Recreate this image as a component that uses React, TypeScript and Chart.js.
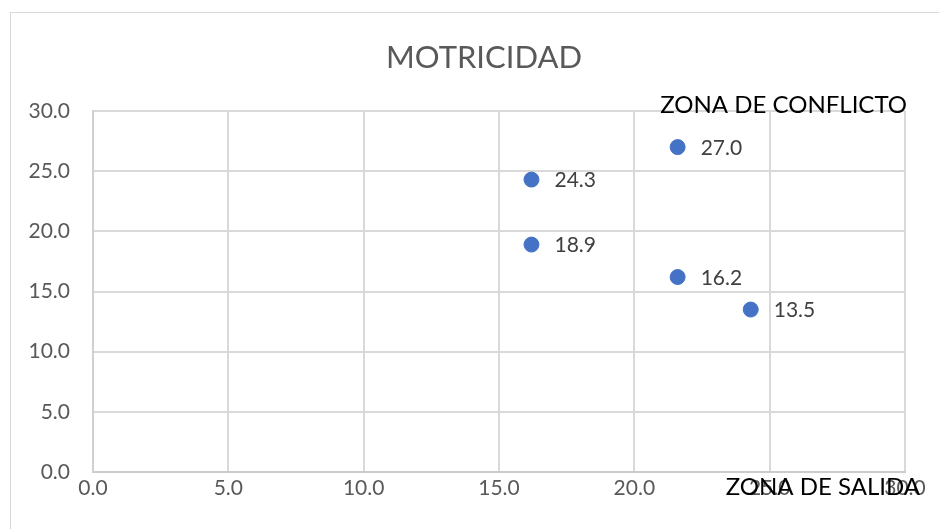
import React, { useEffect, useRef } from "react";
import { Chart, registerables } from "chart.js";

Chart.register(...registerables);

const chartTitle = "MOTRICIDAD";
const xAxisNote = "ZONA DE SALIDA";
const yAxisNote = "ZONA DE CONFLICTO";
const xValues = [16.2, 16.2, 21.6, 21.6, 24.3];
const yValues = [24.3, 18.9, 27.0, 16.2, 13.5];
const axisMin = 0;
const axisMax = 30;
const axisStep = 5;

const FONT = "Lato, 'Open Sans', sans-serif";

const overlayPlugin = {
  id: "overlay",
  beforeDraw(chart: any) {
    const ctx = chart.ctx;
    ctx.save();
    ctx.strokeStyle = "#d9d9d9";
    ctx.lineWidth = 1;
    ctx.strokeRect(10.5, 12.5, 1000, 1000);
    ctx.restore();
  },
  afterDraw(chart: any) {
    const ctx = chart.ctx;
    const area = chart.chartArea;
    ctx.save();
    // title
    ctx.fillStyle = "#595959";
    ctx.font = `31px ${FONT}`;
    ctx.textAlign = "center";
    ctx.textBaseline = "middle";
    ctx.fillText(chartTitle, 484, 58);
    // data labels
    const meta = chart.getDatasetMeta(0);
    ctx.font = `21px ${FONT}`;
    ctx.fillStyle = "#404040";
    ctx.textAlign = "left";
    meta.data.forEach((pt: any, i: number) => {
      ctx.fillText(yValues[i].toFixed(1), pt.x + 23, pt.y + 1);
    });
    // axis notes
    ctx.fillStyle = "#000000";
    ctx.font = `24px ${FONT}`;
    ctx.textAlign = "right";
    ctx.fillText(yAxisNote, area.right + 2, area.top - 6);
    ctx.fillText(xAxisNote, area.right + 15, area.bottom + 15);
    ctx.restore();
  },
};

export default function App() {
  const ref = useRef<HTMLCanvasElement>(null);
  useEffect(() => {
    document.body.style.margin = "0";
    const chart = new Chart(ref.current!, {
      type: "scatter",
      data: {
        datasets: [
          {
            data: xValues.map((x, i) => ({ x, y: yValues[i] })),
            backgroundColor: "#4472C4",
            borderColor: "#4472C4",
            pointRadius: 7.5,
            pointHoverRadius: 7.5,
          },
        ],
      },
      options: {
        animation: false,
        responsive: false,
        events: [],
        layout: { padding: { left: 0, right: 34, top: 111, bottom: 0 } },
        plugins: {
          legend: { display: false },
          title: { display: false },
          tooltip: { enabled: false },
        },
        scales: {
          x: {
            type: "linear",
            min: axisMin,
            max: axisMax,
            ticks: {
              stepSize: axisStep,
              color: "#595959",
              font: { family: FONT, size: 21 },
              padding: 4,
              callback: (v: any) => Number(v).toFixed(1),
            },
            grid: { color: "#d9d9d9", lineWidth: 2, drawTicks: false },
            border: { color: "#cccccc", width: 2 },
            afterFit: (s: any) => {
              s.height = 57;
            },
          },
          y: {
            type: "linear",
            min: axisMin,
            max: axisMax,
            ticks: {
              stepSize: axisStep,
              color: "#595959",
              font: { family: FONT, size: 21 },
              padding: 23,
              callback: (v: any) => Number(v).toFixed(1),
            },
            grid: { color: "#d9d9d9", lineWidth: 2, drawTicks: false },
            border: { color: "#d0d0d0", width: 2 },
            afterFit: (s: any) => {
              s.width = 93;
            },
          },
        },
      },
      plugins: [overlayPlugin],
    });
    return () => chart.destroy();
  }, []);
  return (
    <div style={{ width: 939, height: 529, background: "#fff" }}>
      <canvas ref={ref} width={939} height={529} style={{ display: "block" }} />
    </div>
  );
}
